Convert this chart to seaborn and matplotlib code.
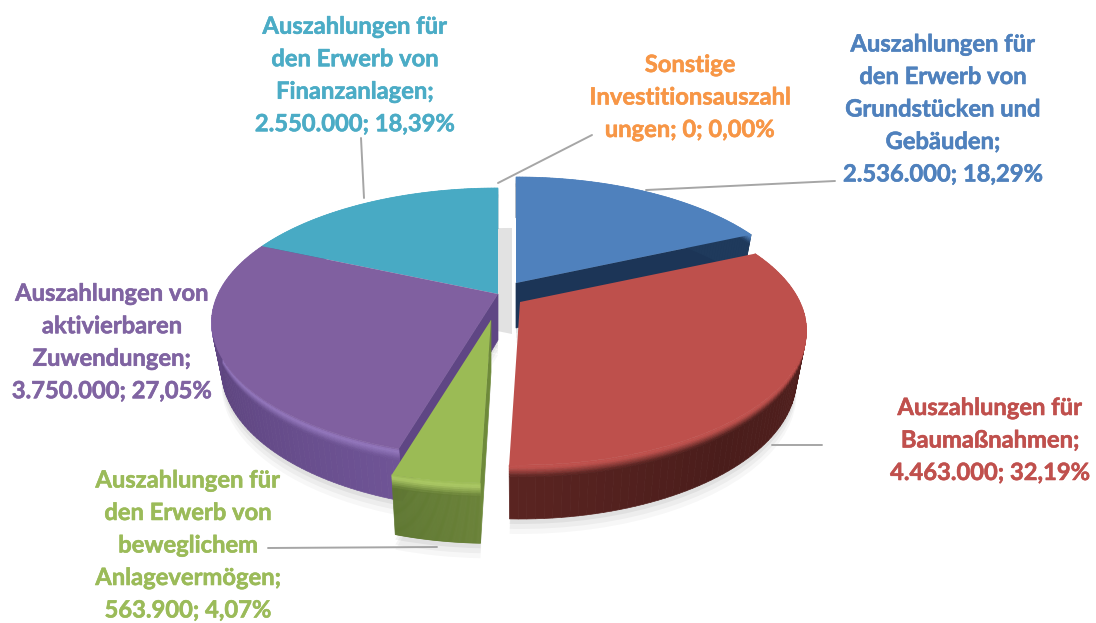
import numpy as np
import matplotlib
matplotlib.use("Agg")
import matplotlib.pyplot as plt
import matplotlib.patheffects as pe
from matplotlib.transforms import Transform
import seaborn as sns

namen = ["Grundstuecke", "Baumassnahmen", "Anlagevermoegen", "Zuwendungen", "Finanzanlagen", "Sonstige"]
werte = [2536000, 4463000, 563900, 3750000, 2550000, 0]

texte = [
    "Auszahlungen für\nden Erwerb von\nGrundstücken und\nGebäuden;\n2.536.000; 18,29%",
    "Auszahlungen für\nBaumaßnahmen;\n4.463.000; 32,19%",
    "Auszahlungen für\nden Erwerb von\nbeweglichem\nAnlagevermögen;\n563.900; 4,07%",
    "Auszahlungen von\naktivierbaren\nZuwendungen;\n3.750.000; 27,05%",
    "Auszahlungen für\nden Erwerb von\nFinanzanlagen;\n2.550.000; 18,39%",
    "Sonstige\nInvestitionsauszahl\nungen; 0; 0,00%",
]
text_pos = [(943, 109), (990, 440), (188, 545), (112, 342), (355, 75), (690, 97)]

farben = ["#4F81BD", "#BE504C", "#9BBB55", "#8060A0", "#48AAC4", "#F79646"]
text_farben = ["#4F81BD", "#C0504D", "#9BBB59", "#8064A2", "#4BACC6", "#F79646"]
rand_farben = ["#4F81BD", "#BE504C", "#AECB66", "#9478BE", "#48AAC4", "#F79646"]
wand_farben = [
    ["#1F3A5C", "#1F3A5C"],
    ["#7A2F2C", "#52201E", "#4A1D1B", "#5A2421"],
    ["#6A8238", "#5F7832"],
    ["#6F5496", "#5E4580", "#6A4F90"],
    ["#2F7F95", "#2F7F95"],
    ["#F79646", "#F79646"],
]
schnitt_farben = ["#1C3557", None, "#6E8A3A", "#5F4684", None, None]

# mittelpunkte und wandhoehe der einzelnen stuecke (explosion)
mitten = [(516, 283), (520, 302), (491, 320), (498, 294), (498, 294), (498, 294)]
tiefen = [45, 47, 52, 46, 45, 45]
linien = [
    ((646, 190), (835, 181)),
    ((772, 445), (822, 445)),
    ((268, 548), (437, 547)),
    ((361, 138), (364, 198)),
    ((592, 135), (498, 183)),
]

RX, RY, KY = 280, 128.5, 0.212
TAPER = 0.035


class Kipp(Transform):
    input_dims = 2
    output_dims = 2
    is_separable = False
    has_inverse = False

    def __init__(self, cx, cy, z=0.0, tiefe=45):
        super().__init__()
        self.cx, self.cy, self.z, self.tiefe = cx, cy, z, tiefe

    def transform_non_affine(self, xy):
        xy = np.asarray(xy, dtype=float)
        s = 1 / (1 + KY * xy[:, 1])
        f = s * (1 - TAPER * self.z)
        return np.column_stack((self.cx + RX * xy[:, 0] * f,
                                self.cy - RY * xy[:, 1] * f + self.tiefe * s * self.z))


def mische(a, b, t):
    a, b = np.array(matplotlib.colors.to_rgb(a)), np.array(matplotlib.colors.to_rgb(b))
    return tuple(a + (b - a) * t)


def viereck(i, p1, p2, z1, z2, farbe):
    k1, k2 = Kipp(*mitten[i], z1, tiefen[i]), Kipp(*mitten[i], z2, tiefen[i])
    pts = np.vstack((k1.transform(np.array([p1, p2])), k2.transform(np.array([p2, p1]))))
    ax.fill(pts[:, 0], pts[:, 1], color=farbe, lw=0.5, zorder=zz[0])
    zz[0] += 0.0001


sns.set_theme(style="white")
plt.rcParams["font.family"] = ["Lato", "DejaVu Sans"]
fig = plt.figure(figsize=(10.96, 6.23), dpi=100)
ax = fig.add_axes([0, 0, 1, 1])
zz = [2.0]

anteile = np.array(werte) / sum(werte)
grenzen = np.concatenate(([0], np.cumsum(anteile))) * 2 * np.pi

# schatten
for dy, alpha in [(5, 0.05), (10, 0.04), (15, 0.03)]:
    wedges, _ = ax.pie(werte, colors=["black"] * 6, startangle=90, counterclock=False,
                       wedgeprops={"alpha": alpha, "lw": 0})
    for i, w in enumerate(wedges):
        m = mitten[i]
        w.set_transform(Kipp(m[0], m[1] + dy, 1.0, tiefen[i]) + ax.transData)
        w.set_zorder(0.5)
streifen, _ = ax.pie(werte, colors=["#E2E2E2"] * 6, startangle=90, counterclock=False,
                     wedgeprops={"lw": 0})
for i, w in enumerate(streifen):
    m = mitten[i]
    w.set_transform(Kipp(m[0] + 14, m[1] + 40) + ax.transData)
    w.set_zorder(0.6)
    w.set_visible(i == 4)

oben, _ = ax.pie(werte, colors=farben, startangle=90, counterclock=False,
                 wedgeprops={"lw": 0})

# von hinten nach vorne zeichnen
stufen = np.array([0, 0.03, 0.06, 0.09, 0.12, 0.15, 0.18, 0.22, 1])
for i in [4, 0, 3, 1, 2]:
    t1, t2 = grenzen[i], grenzen[i + 1]
    n = 80
    ww = np.linspace(t1, t2, n + 1)
    kette = sns.blend_palette(wand_farben[i], n)
    pp = np.column_stack((np.sin(ww), np.cos(ww)))

    # schnittflaechen
    if schnitt_farben[i] is not None:
        kante = t2 if i == 0 else t1
        viereck(i, (0, 0), (np.sin(kante), np.cos(kante)), 0, 1, schnitt_farben[i])
    # aussenwand mit weicher kante
    for j in range(n):
        for k in range(len(stufen) - 1):
            z = (stufen[k] + stufen[k + 1]) / 2
            if z < 0.06:
                farbe = mische(farben[i], rand_farben[i], z / 0.06)
            else:
                farbe = mische(rand_farben[i], kette[j], min(1, (z - 0.06) / 0.16))
            viereck(i, pp[j], pp[j + 1], stufen[k], stufen[k + 1], farbe)
    w = oben[i]
    w.set_transform(Kipp(*mitten[i]) + ax.transData)
    w.set_zorder(zz[0])
    zz[0] += 0.01
oben[5].set_visible(False)

for a, b in linien:
    ax.plot([a[0], b[0]], [a[1], b[1]], color="#A6A6A6", lw=1.4, zorder=1)

for txt, pos, c in zip(texte, text_pos, text_farben):
    ax.text(pos[0], pos[1], txt, color=c, ha="center", va="center", fontsize=17.1,
            fontweight="bold", linespacing=1.5, zorder=20,
            path_effects=[pe.withStroke(linewidth=0.4, foreground=c)])

ax.set_aspect("auto")
ax.set_xlim(0, 1096)
ax.set_ylim(623, 0)
ax.axis("off")
fig.savefig("out.png", dpi=100)
